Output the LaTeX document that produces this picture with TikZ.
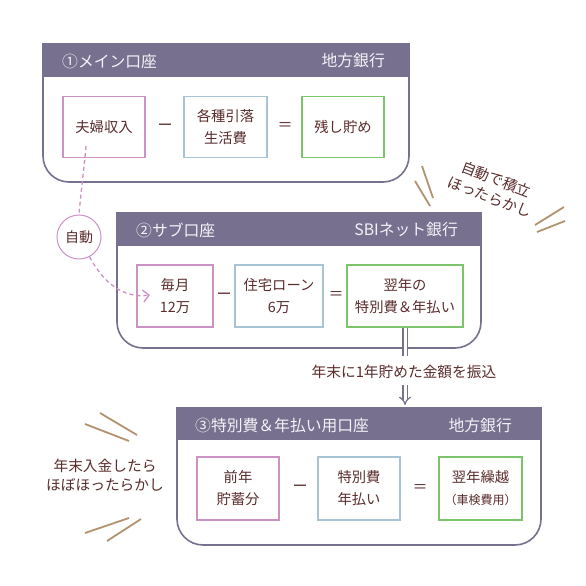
\documentclass[tikz,border=0pt]{standalone}
\usepackage{fontspec}
\setmainfont{Noto Sans CJK JP}
\usetikzlibrary{arrows.meta}
\definecolor{hdr}{HTML}{77718F}
\definecolor{pinkc}{HTML}{CC92C4}
\definecolor{bluec}{HTML}{A8C3D3}
\definecolor{greenc}{HTML}{7CC46C}
\definecolor{txt}{HTML}{5A2C2C}
\definecolor{ray}{HTML}{B3936F}
\definecolor{hdrtxt}{HTML}{F4F2F8}
\begin{document}
\begin{tikzpicture}[x=1pt,y=-1pt,
  item/.style={draw, line width=1.6pt, fill=white, text=txt, align=center,
    font=\fontsize{14.3}{22}\selectfont, minimum height=61pt, inner sep=0pt},
  pinkbox/.style={item, draw=pinkc},
  bluebox/.style={item, draw=bluec},
  greenbox/.style={item, draw=greenc},
  op/.style={text=txt, font=\fontsize{15}{15}\selectfont, inner sep=0pt},
  htext/.style={text=hdrtxt, font=\fontsize{15.8}{16}\selectfont, inner sep=0pt},
  frame/.style={draw=hdr, line width=1.6pt, rounded corners=26pt},
  band/.style={fill=hdr},
  rayline/.style={draw=ray, line width=1.8pt},
  note/.style={text=txt, align=center, font=\fontsize{14.7}{19}\selectfont, inner sep=0pt},
  dbl/.style={draw=hdr, line width=1.2pt, double=white, double distance=3pt},
  autolink/.style={draw=pinkc, line width=1.3pt, dash pattern=on 4pt off 3pt}
]
\useasboundingbox (0,0) rectangle (586,586);
\fill[white] (0,0) rectangle (586,586);

% ---------- account 1 ----------
\draw[frame] (43,44) -- (43,182) -- (409,182) -- (409,44);
\fill[band] (42.2,43.2) rectangle (409.8,77);
\node[htext, anchor=west] (h1a) at (62,61) {①メイン口座};
\node[htext, anchor=east] (h1b) at (385,61) {地方銀行};
\node[pinkbox, minimum width=82pt] (p1) at (104,127) {夫婦収入};
\node[bluebox, minimum width=83pt] (b1) at (225.5,127) {各種引落\\生活費};
\node[greenbox, minimum width=82pt] (g1) at (343,127) {残し貯め};
\node[op] (m1) at (165,127) {ー};
\node[op] (e1) at (285,127) {＝};

% ---------- account 2 ----------
\draw[frame] (117,213) -- (117,348) -- (481,348) -- (481,213);
\fill[band] (116.2,212.2) rectangle (481.8,246);
\node[htext, anchor=west] (h2a) at (136,230) {②サブ口座};
\node[htext, anchor=east] (h2b) at (458,230) {SBIネット銀行};
\node[pinkbox, minimum width=76pt, minimum height=62pt] (p2) at (175,296) {毎月\\12万};
\node[bluebox, minimum width=88pt, minimum height=62pt] (b2) at (279,296) {住宅ローン\\6万};
\node[greenbox, minimum width=116pt, minimum height=62pt] (g2) at (405,296) {翌年の\\特別費＆年払い};
\node[op] (m2) at (224,296) {ー};
\node[op] (e2) at (336,296) {＝};

% ---------- transfer ----------
\node[note] (lbl) at (404,372) {年末に1年貯めた金額を振込};
\coordinate (d2a) at (405,356);
\coordinate (d2b) at (405,385);
\coordinate (t3) at (405,405);
\draw[dbl] (g2.south) -- (d2a);
\draw[dbl, -{Implies}] (d2b) -- (t3);

% ---------- account 3 ----------
\draw[frame] (177,408) -- (177,545) -- (541,545) -- (541,408);
\fill[band] (176.2,407.2) rectangle (541.8,440);
\node[htext, anchor=west] (h3a) at (195,425) {③特別費＆年払い用口座};
\node[htext, anchor=east] (h3b) at (512,425) {地方銀行};
\node[pinkbox, minimum width=82pt, minimum height=63pt] (p3) at (238,488.5) {前年\\貯蓄分};
\node[bluebox, minimum width=82pt, minimum height=63pt] (b3) at (359,488.5) {特別費\\年払い};
\node[greenbox, minimum width=83pt, minimum height=63pt] (g3) at (480.5,488.5) {翌年繰越\\{\fontsize{12}{22}\selectfont（車検費用）}};
\node[op] (m3) at (300,488.5) {ー};
\node[op] (e3) at (420,488.5) {＝};

% ---------- automatic link ----------
\node[circle, draw=pinkc, line width=1pt, fill=white, minimum size=44pt, inner sep=0pt,
  text=txt, font=\fontsize{14}{14}\selectfont] (auto) at (79,237) {自動};
\coordinate (d0) at (86,146);
\coordinate (d1) at (150,295);
\draw[autolink] (d0) to[out=265,in=85] (auto.north);
\draw[autolink, -{Straight Barb[length=6pt,width=12pt,line width=1.3pt]}]
  (auto.-62) to[out=-62,in=188] (d1);

% ---------- notes ----------
\node[note, rotate=-21] (n1) at (493,188) {自動で積立\\ほったらかし};
\node[note] (n2) at (105,475) {年末入金したら\\ほぼほったらかし};

\draw[rayline] (422,166) -- (433,198);
\draw[rayline] (415,181) -- (430,206);
\draw[rayline] (535,225) -- (564,207);
\draw[rayline] (537,232) -- (565,221);
\draw[rayline] (100,413) -- (137,435);
\draw[rayline] (85,424) -- (129,441);
\draw[rayline] (85,533) -- (129,518);
\draw[rayline] (107,541) -- (141,519);
\end{tikzpicture}
\end{document}
